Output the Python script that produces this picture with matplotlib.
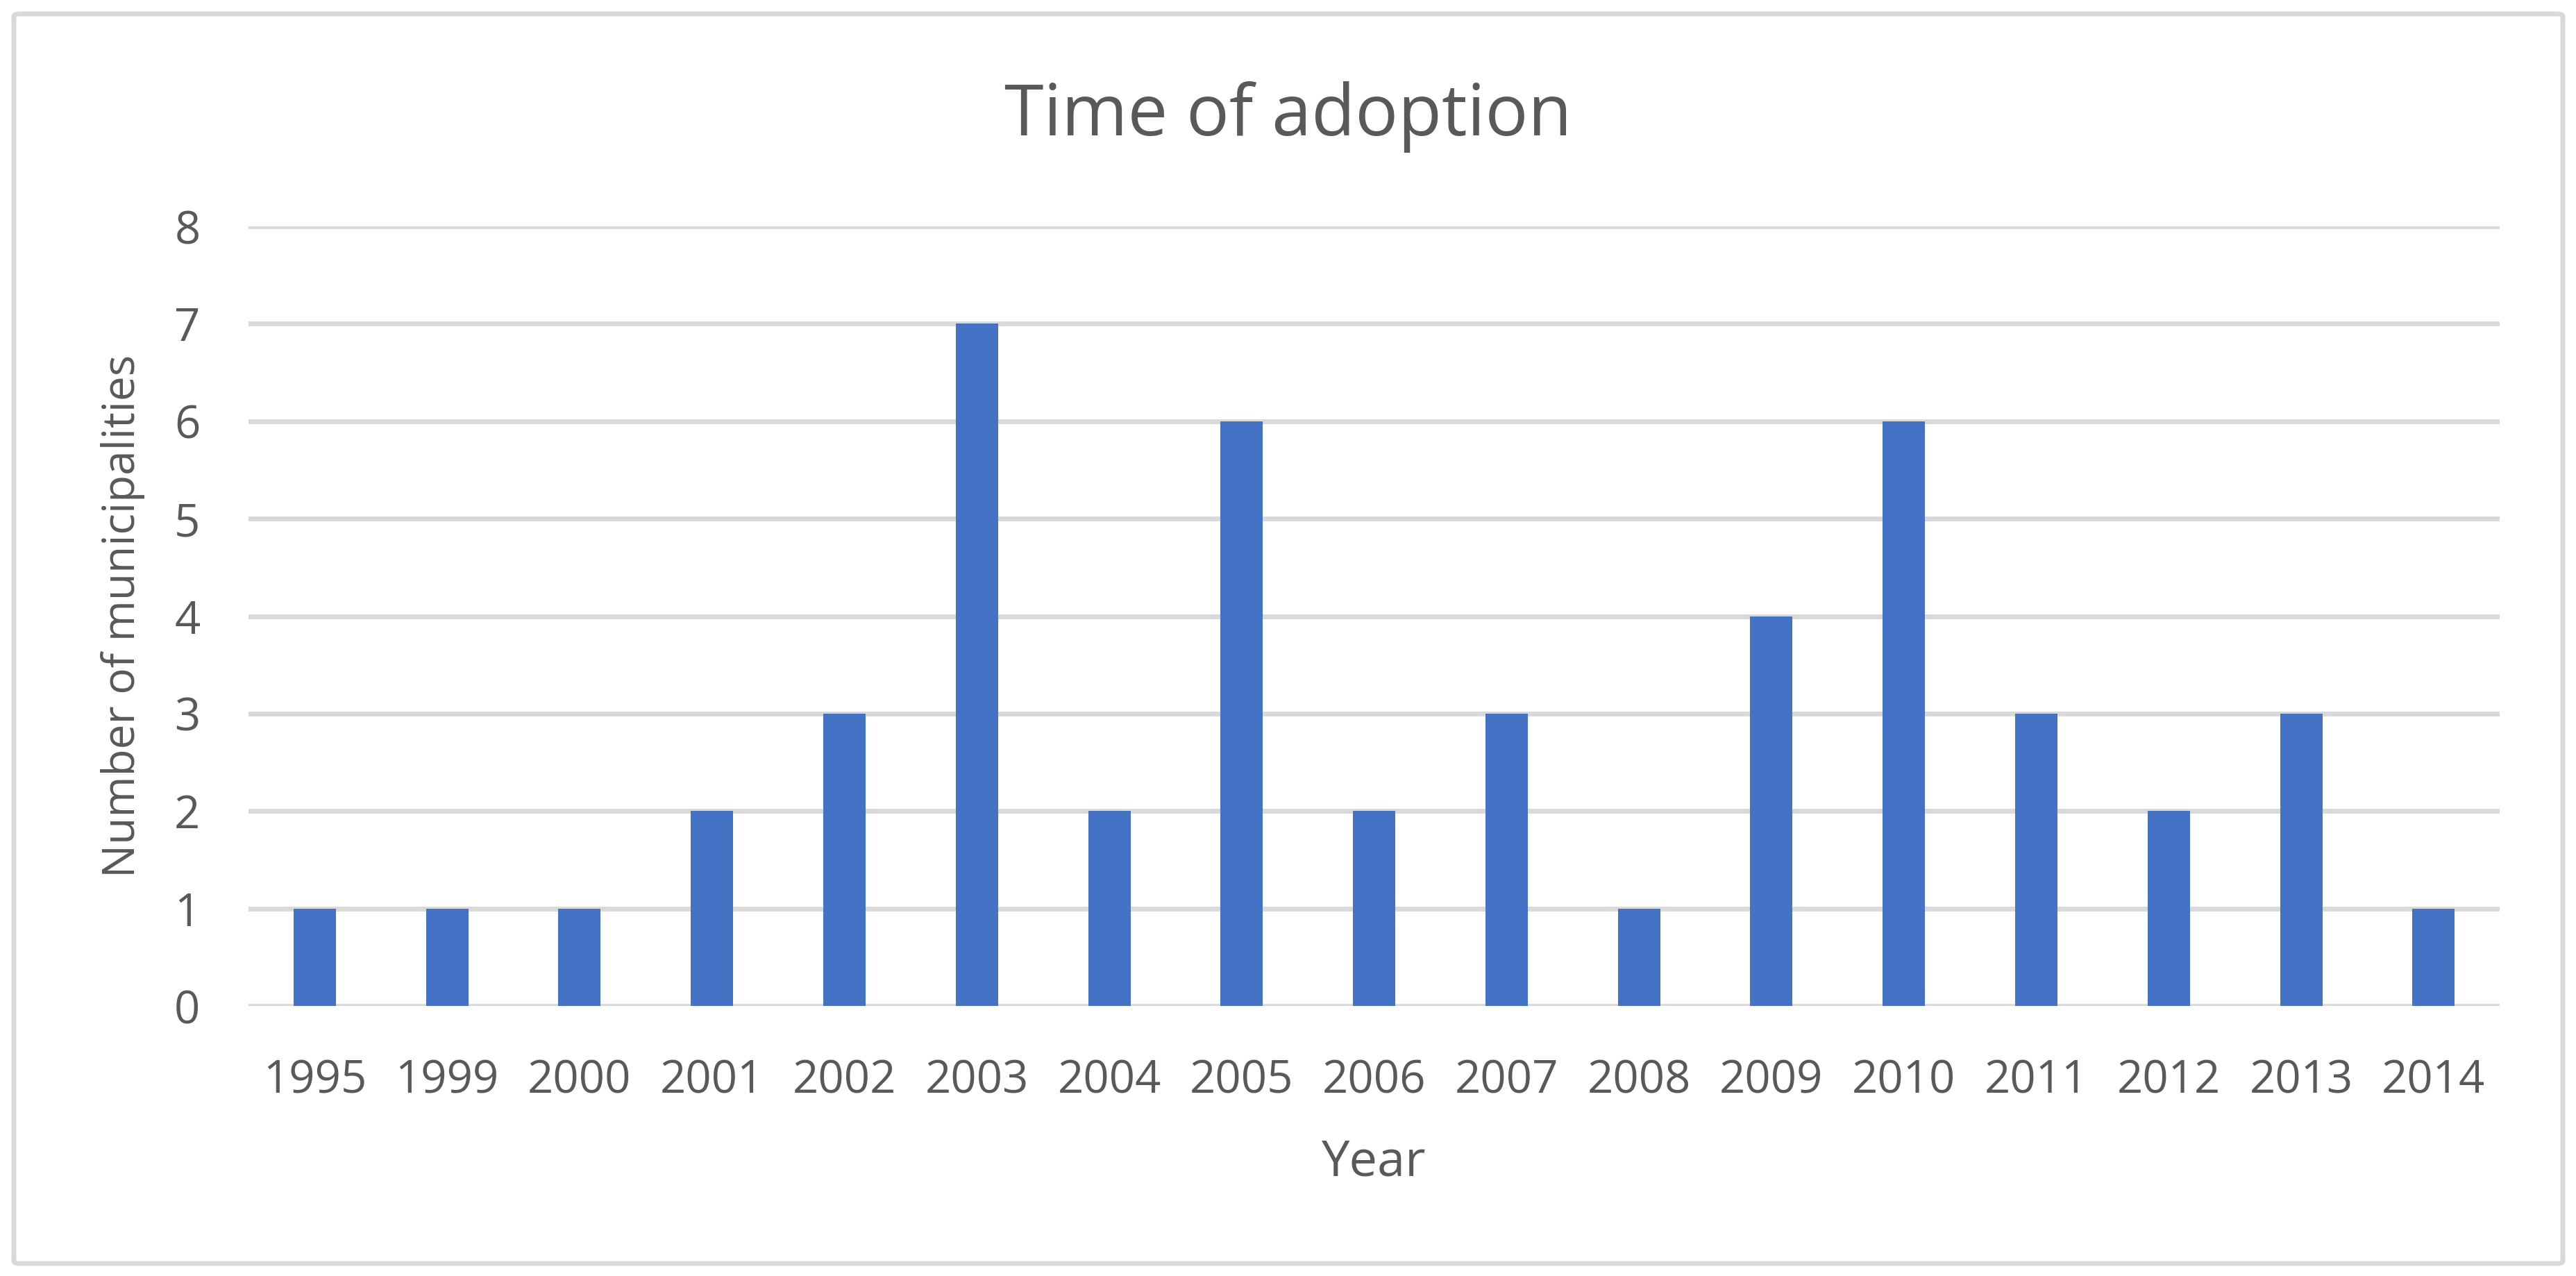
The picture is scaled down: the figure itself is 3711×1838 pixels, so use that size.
import matplotlib.pyplot as plt
from matplotlib.patches import FancyBboxPatch

plt.rcParams['font.family'] = ['Open Sans', 'DejaVu Sans']

years = ['1995', '1999', '2000', '2001', '2002', '2003', '2004', '2005', '2006',
         '2007', '2008', '2009', '2010', '2011', '2012', '2013', '2014']
counts = [1, 1, 1, 2, 3, 7, 2, 6, 2, 3, 1, 4, 6, 3, 2, 3, 1]
yticks = [0, 1, 2, 3, 4, 5, 6, 7, 8]

text_col = '#595959'
grid_col = '#D9D9D9'
bar_col = '#4472C4'

fig = plt.figure(figsize=(18.56, 9.19), dpi=200)
ax = fig.add_axes([0.09645, 0.2116, 0.8737, 0.611])

x = list(range(len(years)))
ax.bar(x, counts, width=0.32, color=bar_col, zorder=3)

ax.set_xlim(-0.5, len(years) - 0.5)
ax.set_ylim(0, 8)
ax.set_yticks(yticks)
ax.set_xticks(x)
ax.set_xticklabels(years)
ax.yaxis.grid(True, color=grid_col, linewidth=2.5, zorder=0)
ax.set_axisbelow(True)
for s in ax.spines.values():
    s.set_visible(False)
ax.tick_params(axis='both', length=0, labelsize=23.5, colors=text_col)
ax.tick_params(axis='y', pad=25)
ax.tick_params(axis='x', pad=27)

ax.set_xlabel('Year', fontsize=26, color=text_col, va='baseline')
ax.xaxis.set_label_coords(0.5, -0.2173)
ax.set_ylabel('Number of municipalities', fontsize=23, color=text_col)
ax.yaxis.set_label_coords(-0.046, 0.5)
fig.text(0.5, 0.894, 'Time of adoption', ha='center', va='baseline',
         fontsize=37, color=text_col)

# chart frame
frame = FancyBboxPatch((0.0054, 0.0098), 0.9892, 0.9793,
                       boxstyle='round,pad=0,rounding_size=0.002',
                       transform=fig.transFigure, fill=False,
                       edgecolor=grid_col, linewidth=2.5)
fig.patches.append(frame)

plt.savefig('out.png', dpi=200)
